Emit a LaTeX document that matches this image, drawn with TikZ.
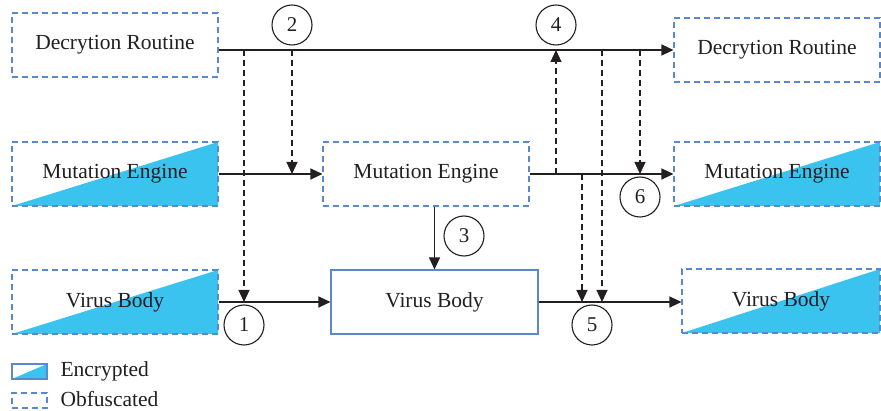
\documentclass[tikz,border=0pt]{standalone}
\usepackage{fontspec}
\setmainfont{Liberation Serif}
\usetikzlibrary{arrows.meta}

\definecolor{boxblue}{HTML}{5B87CF}
\definecolor{encfill}{HTML}{3BC3F0}
\definecolor{ink}{HTML}{231F20}

\tikzset{
  obf/.style={draw=boxblue, line width=1.1pt, dash pattern=on 6pt off 4pt,
    minimum width=206pt, minimum height=64pt, inner sep=0pt,
    font=\fontsize{21.5}{25}\selectfont, text=ink},
  solidbox/.style={obf, solid},
  enc/.style={path picture={
    \fill[encfill] (path picture bounding box.south west)
      -- (path picture bounding box.north east)
      -- (path picture bounding box.south east) -- cycle;}},
  num/.style={circle, draw=ink, line width=1.1pt, minimum size=40pt, inner sep=0pt,
    font=\fontsize{21}{25}\selectfont, text=ink},
  flow/.style={-{Triangle[length=12pt, width=11pt]}, draw=ink, line width=1.2pt},
  tap/.style={flow, dash pattern=on 6pt off 4pt},
}

\begin{document}
\begin{tikzpicture}[x=1pt, y=-1pt]
  \useasboundingbox (0,0) rectangle (881,411);
  % boxes
  \node[obf] (dec1) at (115,45) {Decrytion Routine};
  \node[obf, enc] (mut1) at (115,174) {Mutation Engine};
  \node[obf, enc] (vir1) at (115,302) {Virus Body};
  \node[obf] (mut2) at (426,174) {Mutation Engine};
  \node[solidbox, minimum width=207pt] (vir2) at (434.5,302) {Virus Body};
  \node[obf] (dec3) at (777,50) {Decrytion Routine};
  \node[obf, enc] (mut3) at (777,174) {Mutation Engine};
  \node[obf, enc, minimum width=198pt] (vir3) at (781,301) {Virus Body};
  % main lines
  \draw[flow] (dec1.east |- dec3.west) -- (dec3.west);
  \draw[flow] (mut1.east) -- (mut2.west);
  \draw[flow] (mut2.east) -- (mut3.west);
  \draw[flow] (vir1.east |- vir2.west) -- (vir2.west);
  \draw[flow] (vir2.east) -- (vir2.east -| vir3.west);
  \draw[flow] (mut2.south -| vir2.north) -- (vir2.north);
  % taps
  \coordinate (tapA) at (244,50);
  \coordinate (tapB) at (292,50);
  \coordinate (tapC) at (556,174);
  \coordinate (tapD) at (582,174);
  \coordinate (tapE) at (602,50);
  \coordinate (tapF) at (640,50);
  \draw[tap] (tapA) -- (tapA |- vir2.west);
  \draw[tap] (tapB) -- (tapB |- mut2.west);
  \draw[tap] (tapC) -- (tapC |- dec3.west);
  \draw[tap] (tapD) -- (tapD |- vir2.east);
  \draw[tap] (tapE) -- (tapE |- vir2.east);
  \draw[tap] (tapF) -- (tapF |- mut3.west);
  % step numbers
  \node[num] (n1) at (244,325) {1};
  \node[num] (n2) at (292,25) {2};
  \node[num] (n3) at (464,236) {3};
  \node[num] (n4) at (556,25) {4};
  \node[num] (n5) at (592,325) {5};
  \node[num] (n6) at (640,197) {6};
  % legend
  \node[draw=boxblue, line width=1.1pt, enc, minimum width=35pt, minimum height=15pt,
    inner sep=0pt] (lenc) at (29.5,371.5) {};
  \node[obf, minimum width=35pt, minimum height=15pt] (lobf) at (29.5,400.5) {};
  \node[anchor=west, font=\fontsize{21.5}{25}\selectfont, text=ink] (tenc)
    at (57,371) {Encrypted};
  \node[anchor=west, font=\fontsize{21.5}{25}\selectfont, text=ink] (tobf)
    at (57,399) {Obfuscated};
\end{tikzpicture}
\end{document}
